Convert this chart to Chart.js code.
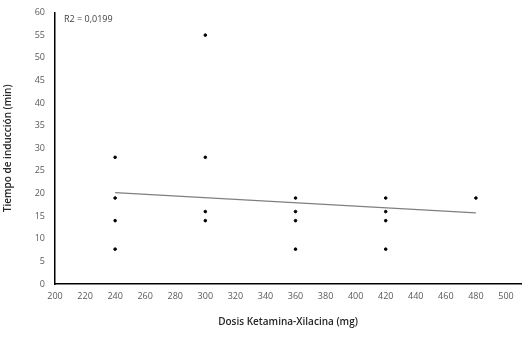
<!DOCTYPE html>
<html lang="es">
<head>
  <meta charset="UTF-8" />
  <title>Tiempo de inducción vs dosis</title>
  <script src="https://cdn.jsdelivr.net/npm/chart.js"></script>
  <style>
    body { margin: 0; padding: 0; background: #fff; }
    #wrap { width: 532px; height: 337px; position: relative; }
  </style>
</head>
<body>
  <div id="wrap"><canvas id="chart"></canvas></div>

  <script>
    // dosis (mg) y tiempo de inducción (min)
    const dosis = [240, 240, 240, 240, 300, 300, 300, 300, 360, 360, 360, 360, 420, 420, 420, 420, 480];
    const tiempo = [28, 19, 14, 7.7, 55, 28, 16, 14, 19, 16, 14, 7.7, 19, 16, 14, 7.7, 19];

    // línea de tendencia (extremos)
    const trendX = [240, 480];
    const trendY = [20.2, 15.7];
    const r2Label = "R2 = 0,0199";

    const xTicks = [200, 220, 240, 260, 280, 300, 320, 340, 360, 380, 400, 420, 440, 460, 480, 500];
    const yTicks = [0, 5, 10, 15, 20, 25, 30, 35, 40, 45, 50, 55, 60];

    const tickFont = { family: "Open Sans", size: 9 };
    const titleFont = { family: "Open Sans", size: 10, weight: "600" };

    const r2Plugin = {
      id: "r2",
      afterDatasetsDraw(chart) {
        const ctx = chart.ctx;
        const a = chart.chartArea;
        ctx.save();
        ctx.font = "9px 'Open Sans'";
        ctx.fillStyle = "#404040";
        ctx.textBaseline = "middle";
        ctx.fillText(r2Label, a.left + 9, a.top + 7);
        ctx.restore();
      }
    };

    new Chart(document.getElementById("chart"), {
      type: "scatter",
      data: {
        datasets: [
          {
            label: "Tiempo",
            data: dosis.map((d, i) => ({ x: d, y: tiempo[i] })),
            backgroundColor: "#000",
            borderColor: "#000",
            pointRadius: 1.3,
            pointHoverRadius: 1.3,
          },
          {
            label: "Tendencia",
            type: "line",
            data: trendX.map((d, i) => ({ x: d, y: trendY[i] })),
            borderColor: "#7f7f7f",
            borderWidth: 1.2,
            pointRadius: 0,
            fill: false,
          },
        ],
      },
      plugins: [r2Plugin],
      options: {
        responsive: true,
        maintainAspectRatio: false,
        animation: false,
        layout: { padding: { top: 0, right: 11, left: 2, bottom: 0 } },
        plugins: { legend: { display: false }, tooltip: { enabled: false } },
        scales: {
          x: {
            type: "linear",
            min: 200,
            max: 510,
            afterBuildTicks: s => { s.ticks = xTicks.map(v => ({ value: v })); },
            afterFit: s => { s.height = 53; },
            grid: { display: false, drawTicks: false },
            border: { color: "#000", width: 1.5 },
            ticks: { color: "#595959", font: tickFont, padding: 7, maxRotation: 0, autoSkip: false },
            title: { display: true, text: "Dosis Ketamina-Xilacina (mg)", color: "#262626", font: titleFont, padding: { top: 4, bottom: 9 } },
          },
          y: {
            min: 0,
            max: 60,
            afterBuildTicks: s => { s.ticks = yTicks.map(v => ({ value: v })); },
            afterFit: s => { s.width = 53; s.paddingTop = 12.5; },
            grid: { display: false, drawTicks: false },
            border: { color: "#000", width: 1.5 },
            ticks: { color: "#595959", font: tickFont, padding: 10 },
            title: { display: true, text: "Tiempo de inducción (min)", color: "#262626", font: titleFont, padding: 0 },
          },
        },
      },
    });
  </script>
</body>
</html>
